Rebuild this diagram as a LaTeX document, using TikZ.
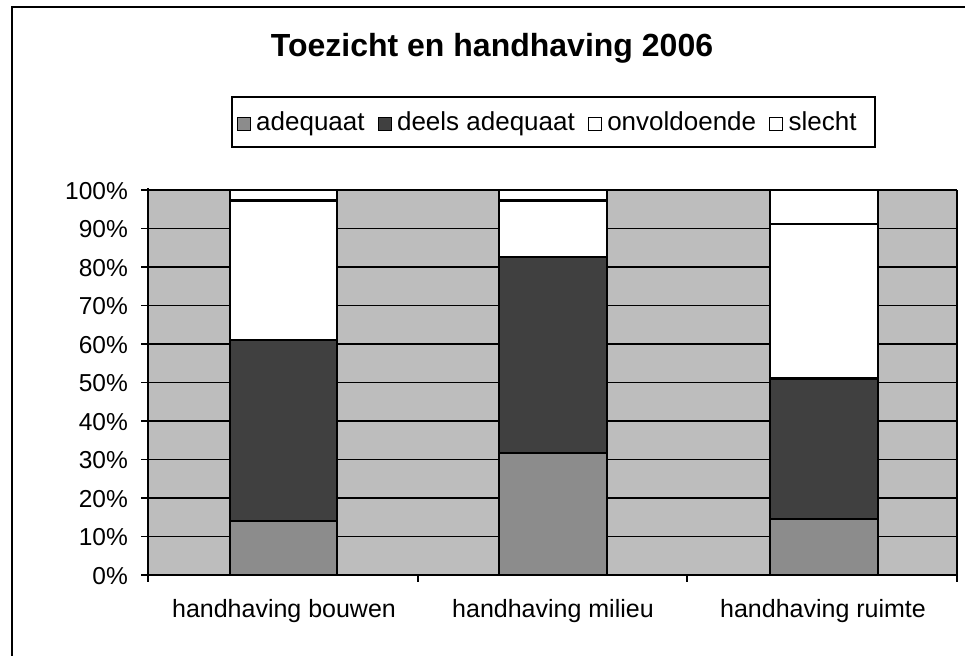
\documentclass[tikz,border=0pt]{standalone}
\usepackage{fontspec}
\setmainfont{Liberation Sans}
\usetikzlibrary{positioning}
\definecolor{bggray}{gray}{0.74}
\definecolor{adeqgray}{gray}{0.55}
\definecolor{deelsgray}{gray}{0.25}
\begin{document}
\begin{tikzpicture}[x=1pt,y=-1pt,
  lbl/.style={font=\fontsize{24.5}{24.5}\selectfont, inner sep=0pt},
  catlbl/.style={font=\fontsize{25}{25}\selectfont, inner sep=0pt},
  leglbl/.style={font=\fontsize{26}{26}\selectfont, inner sep=0pt, anchor=base west},
  ttl/.style={font=\bfseries\fontsize{32}{32}\selectfont, inner sep=0pt},
  gridline/.style={line width=1.6pt},
  barseg/.style={draw=black, line width=2.6pt},
  legmark/.style={draw=black, line width=1pt, minimum size=13pt, inner sep=0pt, anchor=west},
]
\useasboundingbox (0,0) rectangle (965,655);
\fill[white] (0,0) rectangle (965,655);
% outer frame
\draw[line width=1.1pt] (12,680) -- (12,7) -- (990,7);
% title
\node[ttl] (title) at (492,48) {Toezicht en handhaving 2006};
% legend
\node[draw=black, line width=1.1pt, minimum width=643pt, minimum height=50pt, inner sep=0pt] (legend) at (553.5,122) {};
\node[legmark, fill=adeqgray] (m1) at (237,124) {};
\node[leglbl] (t1) at ([xshift=5pt]m1.east |- 0,131) {adequaat};
\node[legmark, fill=deelsgray] (m2) at ([xshift=13pt]t1.east |- m1) {};
\node[leglbl] (t2) at ([xshift=5pt]m2.east |- 0,131) {deels adequaat};
\node[legmark, fill=white] (m3) at ([xshift=13pt]t2.east |- m1) {};
\node[leglbl] (t3) at ([xshift=5pt]m3.east |- 0,131) {onvoldoende};
\node[legmark, fill=white] (m4) at ([xshift=13pt]t3.east |- m1) {};
\node[leglbl] (t4) at ([xshift=5pt]m4.east |- 0,131) {slecht};
% plot background
\fill[bggray] (148,190) rectangle (957,575);
\foreach \p in {10,20,...,100} {
  \draw[gridline] (148,{575-3.85*\p}) -- (957,{575-3.85*\p});
}
\draw[line width=1.3pt] (957,190) -- (957,582);
% bars: bouwen
\draw[barseg, fill=adeqgray] (230,575) rectangle (337,{575-3.85*14});
\draw[barseg, fill=deelsgray] (230,{575-3.85*14}) rectangle (337,{575-3.85*61});
\draw[barseg, fill=white] (230,{575-3.85*61}) rectangle (337,{575-3.85*97.2});
\draw[barseg, fill=white] (230,{575-3.85*97.2}) rectangle (337,190);
% bars: milieu
\draw[barseg, fill=adeqgray] (499,575) rectangle (607,{575-3.85*31.7});
\draw[barseg, fill=deelsgray] (499,{575-3.85*31.7}) rectangle (607,{575-3.85*82.6});
\draw[barseg, fill=white] (499,{575-3.85*82.6}) rectangle (607,{575-3.85*97.2});
\draw[barseg, fill=white] (499,{575-3.85*97.2}) rectangle (607,190);
% bars: ruimte
\draw[barseg, fill=adeqgray] (770,575) rectangle (878,{575-3.85*14.5});
\draw[barseg, fill=deelsgray] (770,{575-3.85*14.5}) rectangle (878,{575-3.85*51});
\draw[barseg, fill=white] (770,{575-3.85*51}) rectangle (878,{575-3.85*91.2});
\draw[barseg, fill=white] (770,{575-3.85*91.2}) rectangle (878,190);
% axes
\draw[line width=1.6pt] (148,188) -- (148,582);
\draw[line width=1.6pt] (141,575) -- (957,575);
\foreach \p in {0,10,...,100} {
  \draw[line width=1.3pt] (141,{575-3.85*\p}) -- (148,{575-3.85*\p});
  \node[lbl, anchor=east] (y\p) at (128,{576-3.85*\p}) {\p\%};
}
\foreach \xx in {148,418,687,957} {
  \draw[line width=1.3pt] (\xx,575) -- (\xx,582);
}
% category labels
\node[catlbl] (c1) at (284,611) {handhaving bouwen};
\node[catlbl] (c2) at (553,611) {handhaving milieu};
\node[catlbl] (c3) at (823,611) {handhaving ruimte};
\end{tikzpicture}
\end{document}
